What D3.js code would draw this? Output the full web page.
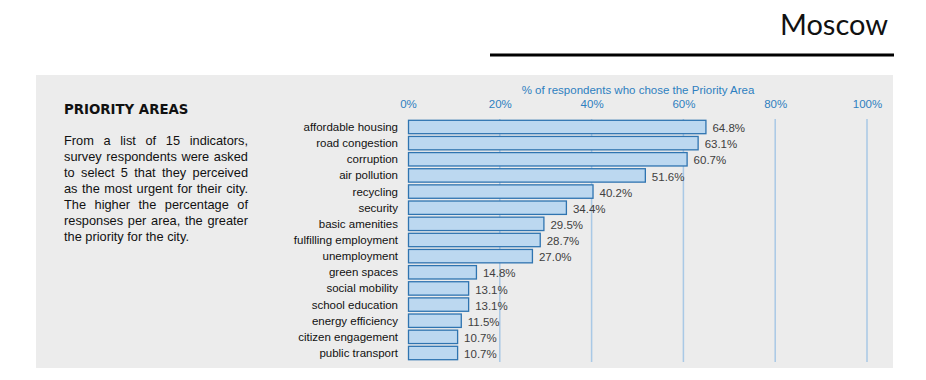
<!DOCTYPE html>
<html>
<head>
<meta charset="utf-8">
<script src="https://cdn.jsdelivr.net/npm/d3@7"></script>
<style>
  body { margin: 0; padding: 0; background: #fff; }
  #wrap { position: relative; width: 926px; height: 380px; }
  #note {
    position: absolute; left: 64px; top: 133px; width: 184px;
    font-family: "Liberation Sans", Arial, sans-serif; font-size: 12.8px;
    line-height: 16px; color: #111; text-align: justify;
  }
</style>
</head>
<body>
<div id="wrap"></div>
<script>
var categories = ["affordable housing", "road congestion", "corruption", "air pollution",
  "recycling", "security", "basic amenities", "fulfilling employment", "unemployment",
  "green spaces", "social mobility", "school education", "energy efficiency",
  "citizen engagement", "public transport"];
var values = [64.8, 63.1, 60.7, 51.6, 40.2, 34.4, 29.5, 28.7, 27.0, 14.8, 13.1, 13.1, 11.5, 10.7, 10.7];
var ticks = [0, 20, 40, 60, 80, 100];

var W = 926, H = 380;
var wrap = d3.select("#wrap");
var svg = wrap.append("svg").attr("width", W).attr("height", H);

// header
svg.append("text")
  .attr("x", 888).attr("y", 35)
  .attr("text-anchor", "end")
  .attr("font-family", "Lato, 'Open Sans', sans-serif")
  .attr("font-size", 29)
  .attr("fill", "#111")
  .text("Moscow");
svg.append("line")
  .attr("x1", 490).attr("x2", 894).attr("y1", 55).attr("y2", 55)
  .attr("stroke", "#000").attr("stroke-width", 3);

// grey panel
svg.append("rect")
  .attr("x", 36).attr("y", 75).attr("width", 857).attr("height", 293)
  .attr("fill", "#ececec");

svg.append("text")
  .attr("x", 64).attr("y", 114)
  .attr("font-family", "'DejaVu Sans Condensed', 'DejaVu Sans', sans-serif")
  .attr("font-weight", "bold")
  .attr("font-size", 14.8)
  .attr("fill", "#111")
  .text("PRIORITY AREAS");

wrap.append("div").attr("id", "note")
  .text("From a list of 15 indicators, survey respondents were asked to select 5 that they perceived as the most urgent for their city. The higher the percentage of responses per area, the greater the priority for the city.");

// chart
var x = d3.scaleLinear().domain([0, 100]).range([408, 867]);
var y = d3.scaleBand().domain(categories).range([119, 361]).paddingInner(0.17).paddingOuter(0.08);
var fs = 11.5;

svg.append("text")
  .attr("x", 638).attr("y", 94)
  .attr("text-anchor", "middle")
  .attr("font-family", "'Liberation Sans', Arial, sans-serif")
  .attr("font-size", fs)
  .attr("fill", "#2e7fc0")
  .text("% of respondents who chose the Priority Area");

var axis = d3.axisTop(x).tickValues(ticks).tickSize(0).tickFormat(function(d) { return d + "%"; });
var gAxis = svg.append("g").attr("transform", "translate(0,111)").call(axis);
gAxis.select(".domain").remove();
gAxis.selectAll("text")
  .attr("font-family", "'Liberation Sans', Arial, sans-serif")
  .attr("font-size", fs)
  .attr("fill", "#2e7fc0");

svg.append("g").selectAll("line")
  .data(ticks.slice(1))
  .join("line")
  .attr("x1", function(d) { return x(d); })
  .attr("x2", function(d) { return x(d); })
  .attr("y1", 119).attr("y2", 362)
  .attr("stroke", "#a9c9e6").attr("stroke-width", 1.5);

svg.append("g").selectAll("rect")
  .data(values)
  .join("rect")
  .attr("x", x(0) + 0.5)
  .attr("y", function(d, i) { return y(categories[i]); })
  .attr("width", function(d) { return x(d) - x(0); })
  .attr("height", y.bandwidth())
  .attr("fill", "#bcd8f0")
  .attr("stroke", "#2f74b0")
  .attr("stroke-width", 1.3);

svg.append("g").selectAll("text")
  .data(categories)
  .join("text")
  .attr("x", 398)
  .attr("y", function(d) { return y(d) + y.bandwidth() / 2; })
  .attr("dy", "0.35em")
  .attr("text-anchor", "end")
  .attr("font-family", "'Liberation Sans', Arial, sans-serif")
  .attr("font-size", fs)
  .attr("fill", "#111")
  .text(function(d) { return d; });

svg.append("g").selectAll("text")
  .data(values)
  .join("text")
  .attr("x", function(d) { return x(d) + 7; })
  .attr("y", function(d, i) { return y(categories[i]) + y.bandwidth() / 2; })
  .attr("dy", "0.45em")
  .attr("font-family", "'Liberation Sans', Arial, sans-serif")
  .attr("font-size", fs)
  .attr("fill", "#404040")
  .text(function(d) { return d.toFixed(1) + "%"; });
</script>
</body>
</html>
